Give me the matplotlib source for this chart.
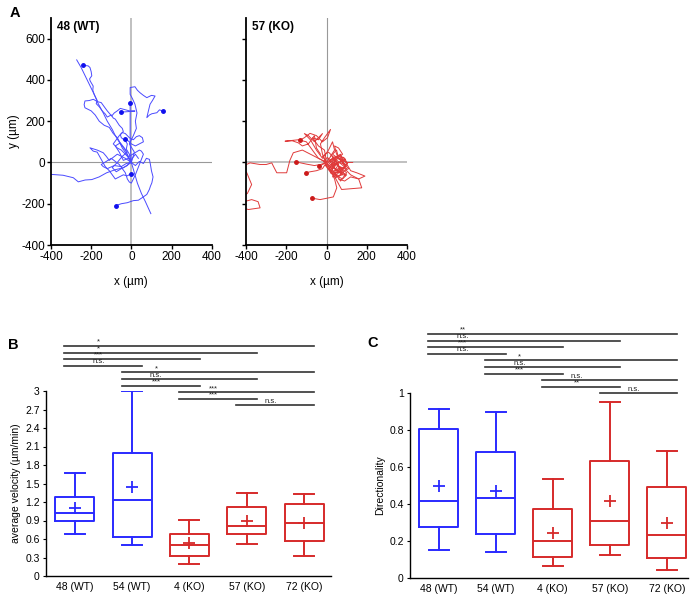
import matplotlib
matplotlib.use("Agg")
import matplotlib.pyplot as plt
import matplotlib.transforms as mtransforms
import numpy as np

plt.rcParams["font.family"] = ["Liberation Sans", "DejaVu Sans"]
plt.rcParams["axes.unicode_minus"] = False

BLUE = "#2a2aff"
BLUE_LINE = "#4a4aff"
RED = "#d62a2a"
RED_LINE = "#e03a3a"

# ---- panel A: cell tracks (um), each starts near origin ----
wt_tracks = [
    [(0, 0), (-20, 35), (-45, 70), (-55, 90), (-80, 130), (-95, 160), (-120, 200), (-140, 240), (-165, 285),
     (-185, 330), (-210, 380), (-230, 420), (-250, 460), (-272, 497)],
    [(-242, 471), (-215, 468), (-206, 460), (-200, 440), (-197, 420), (-208, 405), (-205, 395), (-190, 370),
     (-192, 350), (-185, 330), (-170, 300), (-175, 285), (-160, 270), (-145, 250), (-130, 235), (-120, 220),
     (-100, 230), (-90, 215), (-80, 210), (-70, 195), (-60, 180), (-45, 165), (-40, 150), (-55, 135),
     (-50, 120), (-30, 105), (-20, 90), (-25, 65), (-10, 40), (0, 0)],
    [(0, 0), (-30, 60), (-50, 85), (-70, 120), (-90, 140), (-110, 170), (-135, 180), (-160, 200), (-180, 230),
     (-200, 250), (-231, 265), (-235, 280), (-231, 298), (-210, 300), (-189, 306), (-170, 295), (-150, 290),
     (-135, 270), (-120, 250), (-98, 225), (-85, 240), (-70, 250), (-55, 262), (-40, 258), (-10, 250),
     (18, 249), (-20, 246), (-51, 244)],
    [(0, 0), (-3, 40), (-5, 80), (-6, 121), (-6, 200), (-6, 290)],
    [(0, 0), (15, 50), (-10, 90), (10, 130), (25, 165), (20, 200), (28, 240), (18, 282), (5, 310), (-6, 330),
     (-6, 363), (18, 367), (30, 350), (43, 338), (60, 325), (77, 314), (100, 325), (118, 322), (105, 300),
     (93, 282), (85, 250), (77, 217), (90, 230), (102, 236), (127, 241), (140, 255), (156, 249)],
    [(0, 0), (-40, -26), (-80, -35), (-123, -50), (-160, -70), (-197, -83), (-230, -85), (-264, -94),
     (-289, -74), (-340, -62), (-397, -58), (-430, -55)],
    [(0, 0), (20, -15), (40, 5), (60, -5), (75, 20), (90, 15), (95, -10), (100, -40), (108, -70), (102, -99),
     (95, -115), (90, -130), (77, -155), (55, -170), (35, -183), (10, -185), (-20, -195), (-50, -200),
     (-78, -209)],
    [(0, 0), (15, -50), (30, -100), (50, -150), (70, -190), (97, -248)],
    [(0, 0), (-30, 20), (-50, 30), (-70, 40), (-90, 25), (-110, 10), (-125, 30), (-140, 47), (-170, 60),
     (-206, 71), (-190, 55), (-170, 50), (-150, 15), (-130, -20), (-110, -40), (-95, -60), (-80, -80),
     (-60, -70), (-40, -60), (-20, -65), (-3, -55)],
    [(0, 0), (-20, 30), (-35, 45), (-50, 60), (-70, 70), (-90, 90), (-75, 110), (-60, 130), (-45, 145),
     (-30, 140), (-10, 120), (10, 110), (25, 125), (40, 130), (55, 120), (60, 100), (40, 90), (20, 80),
     (0, 90), (-10, 100), (-30, 115)],
    [(0, 0), (-25, -5), (-50, -20), (-85, -15), (-120, -30), (-140, -20), (-150, -10), (-125, 5), (-100, 20),
     (-80, 5), (-60, -10), (-45, -30), (-30, -50), (-25, -65), (-20, -80), (-10, -95), (0, -100), (10, -80),
     (20, -60), (30, -35), (40, -10), (50, 15), (60, 40), (50, 55), (40, 60), (15, 45), (-10, 30)],
    [(0, 0), (-15, 20), (-40, 10), (-60, 50), (-80, 80), (-55, 95), (-35, 70), (-20, 50), (-45, 30),
     (-70, 0), (-95, -25), (-75, -45), (-50, -30), (-20, -15), (5, 20), (20, 40), (35, 20)],
]
wt_dots_x = [-242, -51, -6, 156, -78, -3, -30]
wt_dots_y = [471, 244, 290, 249, -209, -55, 115]

ko_tracks = [
    [(0, 0), (30, 20), (60, -10), (40, -40), (80, -30), (20, 10), (70, 40), (90, -20), (50, -60), (10, -30),
     (60, 0), (100, -10), (70, -50), (30, -20), (50, 30), (80, 10), (40, -10), (20, -50), (60, -70), (90, -40),
     (110, -30), (70, 10), (30, 40), (50, 60), (60, 20), (100, 0), (130, 0)],
    [(0, 0), (-20, 30), (10, 50), (40, 20), (20, -20), (60, -40), (100, -60), (80, -80), (40, -60), (70, -30),
     (40, 10), (80, 40), (60, 70), (40, 80), (50, 40), (90, 10), (120, -40), (150, -50), (191, -66), (160, -80),
     (120, -70), (90, -90), (60, -80)],
    [(0, 0), (-20, 40), (-30, 90), (-10, 120), (20, 160), (5, 120), (-20, 100), (-50, 130), (-82, 141),
     (-110, 120), (-132, 108)],
    [(0, 0), (-40, 20), (-70, 60), (-100, 100), (-140, 110), (-206, 103), (-170, 105), (-140, 95), (-120, 80),
     (-90, 90), (-60, 130), (-50, 70), (-30, 40)],
    [(0, 0), (-40, 20), (-80, 40), (-120, 60), (-165, 47), (-182, 10), (-198, -50), (-247, -50), (-264, -18),
     (-272, -2), (-300, -10), (-330, -10), (-380, -2), (-420, -20), (-396, -50), (-372, -107), (-393, -150),
     (-430, -175), (-410, -190), (-372, -180), (-340, -190), (-330, -220), (-388, -228), (-420, -220)],
    [(0, 0), (-30, -10), (-60, -15), (-100, -8), (-153, 3)],
    [(0, 0), (-20, -30), (-50, -40), (-80, -45), (-103, -50)],
    [(0, 0), (-20, -10), (-37, -18)],
    [(0, 0), (20, -40), (40, -80), (51, -123), (34, -167), (-32, -180), (-60, -175), (-74, -173)],
    [(0, 0), (30, -50), (75, -131), (175, -123), (160, -80), (120, -60), (90, -30)],
    [(20, -10), (50, -40), (30, -70), (80, -60), (60, -20), (100, -30), (40, 20), (10, -10), (70, -90),
     (100, -50), (50, -10), (30, -30)],
    [(0, 0), (25, 35), (45, 5), (15, -15), (35, -45), (65, -25), (45, 15), (85, 25), (105, -5), (75, -35),
     (95, -65), (55, -45), (25, -5), (5, 25), (-15, 5), (15, -35), (45, -75), (75, -55), (55, -5), (95, 15),
     (65, 35), (35, 25), (-5, -15), (25, -55), (65, -45)],
    [(0, 0), (-10, 60), (-40, 80), (-70, 120), (-40, 110), (-20, 140), (-60, 100), (-90, 130), (-110, 140),
     (-80, 110), (-50, 60), (-20, 20), (10, 60), (30, 100), (40, 60), (20, 30)],
]
ko_dots_x = [-132, -153, -103, -37, -74]
ko_dots_y = [108, 3, -50, -18, -173]

# ---- panels B, C: box statistics ----
groups = ["48 (WT)", "54 (WT)", "4 (KO)", "57 (KO)", "72 (KO)"]
colors = [BLUE, BLUE, RED, RED, RED]

vel_low = [0.68, 0.51, 0.195, 0.52, 0.32]
vel_q1 = [0.885, 0.625, 0.325, 0.68, 0.575]
vel_med = [1.025, 1.225, 0.51, 0.815, 0.865]
vel_q3 = [1.275, 1.995, 0.685, 1.12, 1.165]
vel_high = [1.675, 3.0, 0.905, 1.34, 1.33]
vel_mean = [1.095, 1.45, 0.53, 0.895, 0.865]

dir_low = [0.15, 0.139, 0.065, 0.126, 0.043]
dir_q1 = [0.277, 0.238, 0.115, 0.18, 0.106]
dir_med = [0.418, 0.431, 0.2, 0.306, 0.232]
dir_q3 = [0.804, 0.683, 0.375, 0.632, 0.49]
dir_high = [0.913, 0.895, 0.535, 0.951, 0.686]
dir_mean = [0.497, 0.47, 0.245, 0.414, 0.297]

vel_sig = [(1, 5, "*"), (1, 4, "*"), (1, 3, "***"), (1, 2, "n.s."), (2, 5, "*"), (2, 4, "n.s."),
           (2, 3, "***"), (3, 5, "***"), (3, 4, "***"), (4, 5, "n.s.")]
dir_sig = [(1, 5, "**"), (1, 4, "n.s."), (1, 3, "***"), (1, 2, "n.s."), (2, 5, "*"), (2, 4, "n.s."),
           (2, 3, "***"), (3, 5, "n.s."), (3, 4, "**"), (4, 5, "n.s.")]


def track_panel(ax, tracks, dx, dy, line_c, dot_c, title, ylabels=True, thick_vertical=True):
    ax.axvline(0, color="#bbbbbb" if thick_vertical else "#999999", lw=1.3 if thick_vertical else 0.8, zorder=0)
    ax.axhline(0, color="#999999" if thick_vertical else "#bbbbbb", lw=0.8 if thick_vertical else 1.3, zorder=0)
    for tr in tracks:
        xs, ys = zip(*tr)
        ax.plot(xs, ys, color=line_c, lw=0.7)
    ax.plot(dx, dy, "o", color=dot_c, ms=2.5, zorder=3)
    ax.set_xlim(-400, 400); ax.set_ylim(-400, 700)
    ax.set_xticks(range(-400, 401, 200)); ax.set_yticks(range(-400, 601, 200))
    if not ylabels:
        ax.set_yticklabels([])
    for s in ["top", "right"]:
        ax.spines[s].set_visible(False)
    for s in ["left", "bottom"]:
        ax.spines[s].set_linewidth(1.3)
    ax.tick_params(labelsize=8.5, length=3, width=1, pad=1)
    ax.set_xlabel("x (µm)", fontsize=8.5, labelpad=10)
    ax.text(0.04, 0.985, title, transform=ax.transAxes, fontsize=8.5, fontweight="bold", va="top")


def box_panel(ax, low, q1, med, q3, high, mean, sig, top, ylabel, yticks, xmax):
    stats = [dict(whislo=a, q1=b, med=c, q3=d, whishi=e, label=g)
             for a, b, c, d, e, g in zip(low, q1, med, q3, high, groups)]
    pos = np.arange(1, len(groups) + 1)
    for p, st, c, m in zip(pos, stats, colors, mean):
        props = dict(color=c, linewidth=1.4)
        ax.bxp([st], positions=[p], widths=0.68, showfliers=False, showcaps=True,
               boxprops=props, whiskerprops=props, capprops=props, medianprops=props,
               capwidths=0.35, manage_ticks=False)
        ax.plot(p, m, "+", color=c, ms=8, mew=1.3)
    ax.set_xlim(0.5, xmax)
    ax.set_xticks(pos); ax.set_xticklabels(groups)
    ax.set_yticks(yticks); ax.set_yticklabels([f"{v:g}" for v in yticks])
    ax.set_ylim(yticks[0], yticks[-1])
    for s in ["top", "right"]:
        ax.spines[s].set_visible(False)
    ax.spines["left"].set_linewidth(1.0); ax.spines["bottom"].set_linewidth(1.0)
    ax.tick_params(axis="x", length=0, labelsize=7.5, pad=4)
    ax.tick_params(axis="y", length=2.5, labelsize=7.5, pad=2)
    ax.set_ylabel(ylabel, fontsize=7.5, labelpad=3)
    trans = mtransforms.blended_transform_factory(ax.transData, ax.transAxes)
    step = 0.0357
    for k, (i, j, lab) in enumerate(sig):
        yy = top - k * step
        ax.plot([i - 0.18, j + 0.18], [yy, yy], color="#333333", lw=1.2, transform=trans, clip_on=False)
        ax.text(i + 0.42, yy + 0.002, lab, transform=trans, fontsize=5.5, ha="center", va="bottom",
                color="#222222")


fig = plt.figure(figsize=(6.97, 5.98), dpi=100)
W, H = 697, 598


def add_ax(x0, y0, x1, y1):
    return fig.add_axes([x0 / W, 1 - y1 / H, (x1 - x0) / W, (y1 - y0) / H])


axA1 = add_ax(51, 18, 211.7, 245)
axA2 = add_ax(246, 18, 407, 245)
track_panel(axA1, wt_tracks, wt_dots_x, wt_dots_y, BLUE_LINE, "#1010ee", "48 (WT)")
axA1.set_ylabel("y (µm)", fontsize=8.5, labelpad=1)
track_panel(axA2, ko_tracks, ko_dots_x, ko_dots_y, RED_LINE, "#cc1a1a", "57 (KO)", ylabels=False,
            thick_vertical=False)

axB = add_ax(46, 391, 331, 576)
box_panel(axB, vel_low, vel_q1, vel_med, vel_q3, vel_high, vel_mean, vel_sig, 1.243,
          "average velocity (µm/min)", [round(0.3 * k, 1) for k in range(11)], 5.47)

axC = add_ax(410, 393, 688, 578)
box_panel(axC, dir_low, dir_q1, dir_med, dir_q3, dir_high, dir_mean, dir_sig, 1.319,
          "Directionality", [0, 0.2, 0.4, 0.6, 0.8, 1], 5.37)

fig.text(10 / W, 1 - 13 / H, "A", fontsize=10.5, fontweight="bold", va="center")
fig.text(8 / W, 1 - 345 / H, "B", fontsize=10.5, fontweight="bold", va="center")
fig.text(367 / W, 1 - 343 / H, "C", fontsize=10.5, fontweight="bold", va="center")

fig.savefig("out.png", dpi=100)
